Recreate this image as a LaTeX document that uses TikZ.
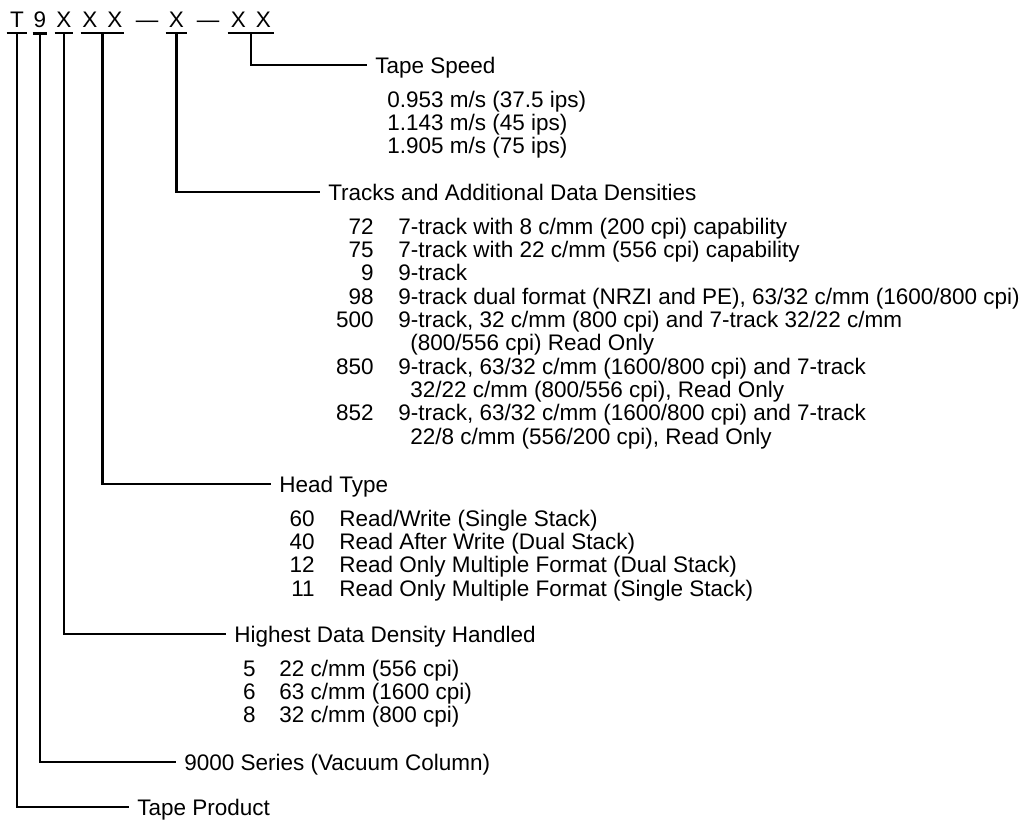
\documentclass[tikz,border=0pt]{standalone}
\usepackage{fontspec}
\setmainfont{Liberation Sans}
\usetikzlibrary{arrows.meta}

\begin{document}
\begin{tikzpicture}[x=0.025cm, y=-0.025cm,
  every node/.style={inner sep=0pt, font=\fontsize{16}{16.6}\selectfont},
  code/.style={anchor=base, inner ysep=0.15cm},
  lbl/.style={anchor=west, inner xsep=0.2cm, text height=0.4cm, text depth=0pt},
  num/.style={anchor=base east},
  desc/.style={anchor=base west},
  link/.style={line width=1.5pt}]
  \useasboundingbox (0,0) rectangle (1021,824);
  % model code
  \node[code, minimum width=0.5cm]   (hT)  at (17,27)    {T};
  \node[code, minimum width=0.35cm]  (h9)  at (40,27)    {9};
  \node[code, minimum width=0.45cm]  (hX)  at (64,27)    {X};
  \node[code, minimum width=1.075cm] (hXX) at (102.5,27) {X\hspace{0.25cm}X};
  \node[code] (hd1) at (147,27) {---};
  \node[code, minimum width=0.525cm] (hY)  at (176.5,27) {X};
  \node[code] (hd2) at (208,27) {---};
  \node[code, minimum width=1.15cm]  (hZZ) at (251,27)   {X\hspace{0.25cm}X};
  \foreach \g in {hT,h9,hX,hXX,hY,hZZ}
    \draw[link] (\g.south west) -- (\g.south east);
  % fields
  \node[lbl] (speed)  at (367,65)  {Tape Speed};
  \node[lbl] (tracks) at (320,192) {Tracks and Additional Data Densities};
  \node[lbl] (head)   at (271,484) {Head Type};
  \node[lbl] (dens)   at (226,634) {Highest Data Density Handled};
  \node[lbl] (series) at (176,762) {9000 Series (Vacuum Column)};
  \node[lbl] (prod)   at (129,807) {Tape Product};
  % leaders
  \draw[link] (hZZ.south) |- (speed.west);
  \draw[link] (hY.south)  |- (tracks.west);
  \draw[link] (hXX.south) |- (head.west);
  \draw[link] (hX.south)  |- (dens.west);
  \draw[link] (h9.south)  |- (series.west);
  \draw[link] (hT.south)  |- (prod.west);
  % tape speeds
  \node[desc] (speedlist) at (387,107) {\begin{tabular}[t]{@{}l@{}}
    0.953 m/s (37.5 ips)\\ 1.143 m/s (45 ips)\\ 1.905 m/s (75 ips)\end{tabular}};
  % tracks
  \node[num] (trknum) at (374,234) {\begin{tabular}[t]{@{}r@{}}
    72\\ 75\\ 9\\ 98\\ 500\\ \\ 850\\ \\ 852\end{tabular}};
  \node[desc] (trkdesc) at (398,234) {\begin{tabular}[t]{@{}l@{}}
    7-track with 8 c/mm (200 cpi) capability\\
    7-track with 22 c/mm (556 cpi) capability\\
    9-track\\
    9-track dual format (NRZI and PE), 63/32 c/mm (1600/800 cpi)\\
    9-track, 32 c/mm (800 cpi) and 7-track 32/22 c/mm\\
    \hspace{0.3cm}(800/556 cpi) Read Only\\
    9-track, 63/32 c/mm (1600/800 cpi) and 7-track\\
    \hspace{0.3cm}32/22 c/mm (800/556 cpi), Read Only\\
    9-track, 63/32 c/mm (1600/800 cpi) and 7-track\\
    \hspace{0.3cm}22/8 c/mm (556/200 cpi), Read Only\end{tabular}};
  % head types
  \node[num] (headnum) at (315,526) {\begin{tabular}[t]{@{}r@{}}
    60\\ 40\\ 12\\ 11\end{tabular}};
  \node[desc] (headdesc) at (339,526) {\begin{tabular}[t]{@{}l@{}}
    Read/Write (Single Stack)\\
    Read After Write (Dual Stack)\\
    Read Only Multiple Format (Dual Stack)\\
    Read Only Multiple Format (Single Stack)\end{tabular}};
  % densities
  \node[num] (densnum) at (256,676) {\begin{tabular}[t]{@{}r@{}}
    5\\ 6\\ 8\end{tabular}};
  \node[desc] (densdesc) at (279,676) {\begin{tabular}[t]{@{}l@{}}
    22 c/mm (556 cpi)\\ 63 c/mm (1600 cpi)\\ 32 c/mm (800 cpi)\end{tabular}};
\end{tikzpicture}
\end{document}
